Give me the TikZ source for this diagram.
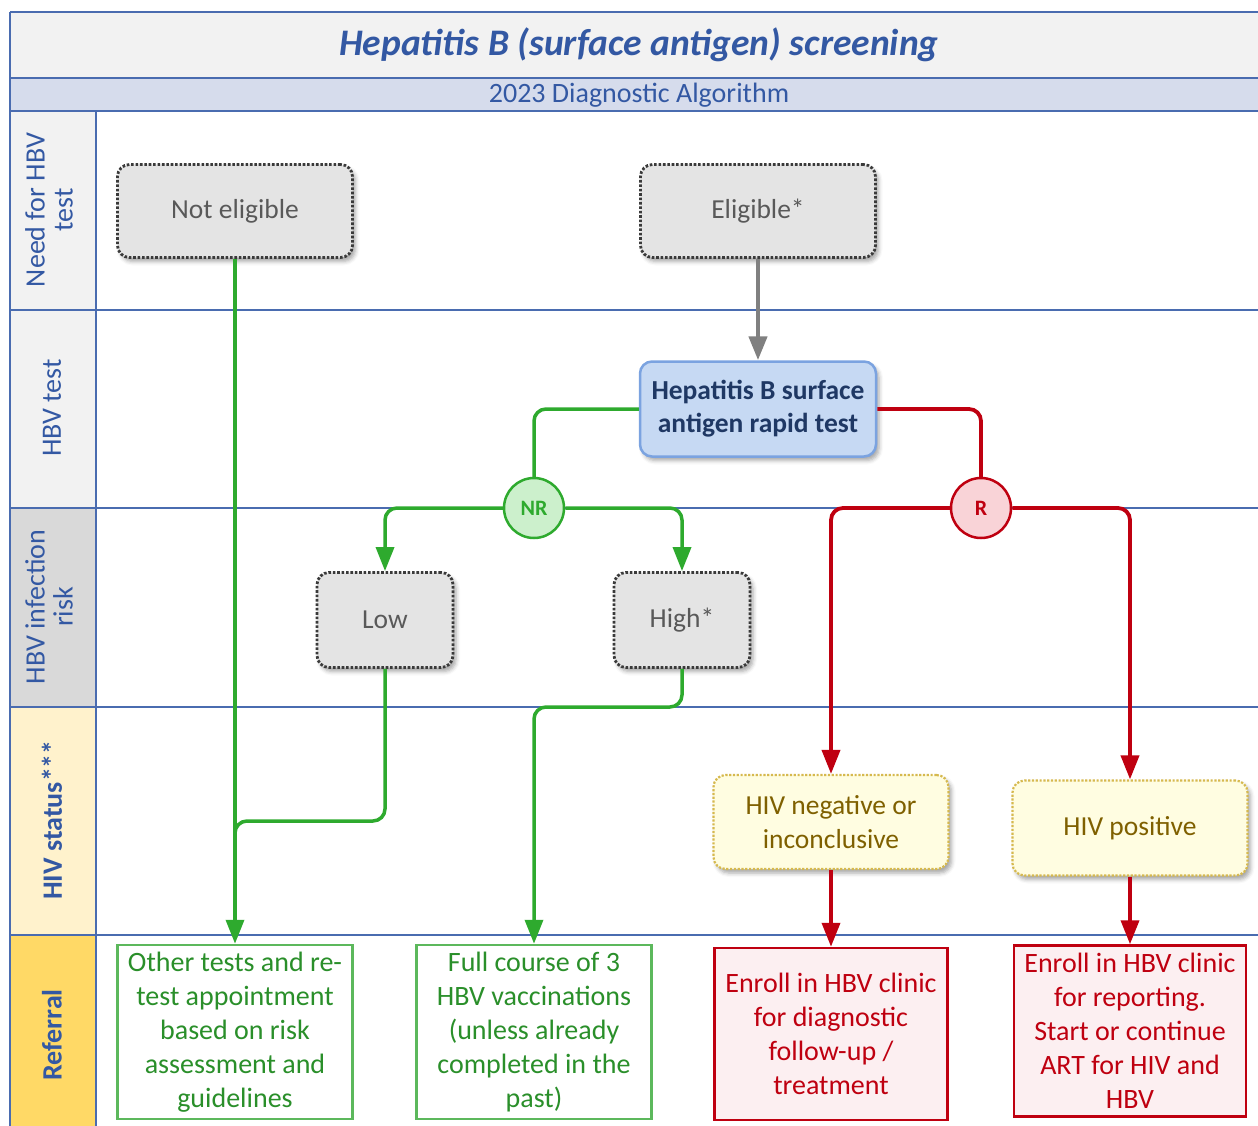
\documentclass[tikz,border=0pt]{standalone}
\usepackage{fontspec}
\setmainfont{Carlito}
\usetikzlibrary{arrows.meta,shadows.blur,calc}

\definecolor{frameblue}{HTML}{4A6CB0}
\definecolor{labelblue}{HTML}{3358A3}
\definecolor{titlebg}{HTML}{F2F2F2}
\definecolor{subbg}{HTML}{D6DCEC}
\definecolor{laneA}{HTML}{F2F2F2}
\definecolor{laneB}{HTML}{D9D9D9}
\definecolor{laneC}{HTML}{FFF2CC}
\definecolor{laneD}{HTML}{FFD966}
\definecolor{greyfill}{HTML}{E4E4E4}
\definecolor{greydraw}{HTML}{3A3A3A}
\definecolor{greytext}{HTML}{595959}
\definecolor{testfill}{HTML}{C6D9F3}
\definecolor{testdraw}{HTML}{7BA3E0}
\definecolor{testtext}{HTML}{1F3864}
\definecolor{okgreen}{HTML}{2EAA2E}
\definecolor{okfill}{HTML}{CCF0CC}
\definecolor{okbox}{HTML}{5CB85C}
\definecolor{oktext}{HTML}{2A8F2A}
\definecolor{alertred}{HTML}{BF0010}
\definecolor{alertfill}{HTML}{F9D3D7}
\definecolor{alertbox}{HTML}{FCEFF1}
\definecolor{hivfill}{HTML}{FFFDE1}
\definecolor{hivdraw}{HTML}{D6B94E}
\definecolor{hivtext}{HTML}{7F6000}
\definecolor{arrowgrey}{HTML}{808080}

\newcommand\myfs[2]{\fontsize{#1}{#2}\selectfont}

\tikzset{
  softshadow/.style={blur shadow={shadow xshift=3pt, shadow yshift=-4pt,
      shadow blur radius=4pt, shadow opacity=35}},
  greybox/.style={rounded corners=12pt, fill=greyfill, draw=greydraw,
      line width=2.8pt, dash pattern=on 2.6pt off 1.8pt, text=greytext,
      align=center, font=\myfs{27.5}{33}, softshadow},
  testbox/.style={rounded corners=12pt, fill=testfill, draw=testdraw,
      line width=2.5pt, text=testtext, align=center,
      font=\myfs{27.5}{33}\bfseries, softshadow},
  hivbox/.style={rounded corners=12pt, fill=hivfill, draw=hivdraw,
      line width=2.2pt, dash pattern=on 2.2pt off 1.6pt, text=hivtext,
      align=center, font=\myfs{27.5}{34}, softshadow},
  okcircle/.style={circle, minimum size=60pt, inner sep=0pt, fill=okfill,
      draw=okgreen, line width=2.5pt, text=okgreen, font=\myfs{22}{26}\bfseries},
  alertcircle/.style={circle, minimum size=60pt, inner sep=0pt, fill=alertfill,
      draw=alertred, line width=2.5pt, text=alertred, font=\myfs{22}{26}\bfseries},
  okref/.style={draw=okbox, line width=2.5pt, fill=white, text=oktext,
      align=center, font=\myfs{28}{34}},
  alertref/.style={draw=alertred, line width=2.5pt, fill=alertbox, text=alertred,
      align=center, font=\myfs{28}{34}},
  lanelabel/.style={rotate=90, align=center, text=labelblue, font=\myfs{28}{28}},
  tip/.style={-{Triangle[width=18pt,length=24pt]}},
  okline/.style={draw=okgreen, line width=3.5pt, rounded corners=12pt},
  alertline/.style={draw=alertred, line width=3.8pt, rounded corners=12pt},
  greyline/.style={draw=arrowgrey, line width=4.5pt},
  frameline/.style={draw=frameblue, line width=2pt}
}

\begin{document}
\begin{tikzpicture}[x=1pt, y=-1pt]
\useasboundingbox (0,0) rectangle (1258,1126);

% header bands
\fill[titlebg] (10,12) rectangle (1258,78);
\fill[subbg] (10,78) rectangle (1258,111);
% lane label column
\fill[laneA] (10,111) rectangle (96,508);
\fill[laneB] (10,508) rectangle (96,707);
\fill[laneC] (10,707) rectangle (96,935);
\fill[laneD] (10,935) rectangle (96,1126);

% frame lines
\draw[frameline] (10,12) -- (1258,12);
\draw[frameline] (10,78) -- (1258,78);
\draw[frameline] (10,111) -- (1258,111);
\draw[frameline] (10,310) -- (1258,310);
\draw[frameline] (10,508) -- (1258,508);
\draw[frameline] (10,707) -- (1258,707);
\draw[frameline] (10,935) -- (1258,935);
\draw[frameline] (10,12) -- (10,1126);
\draw[frameline] (96,111) -- (96,1126);

% titles
\node (title) at (639,45) {\myfs{37.5}{44}\bfseries\itshape\color{labelblue}Hepatitis B (surface antigen) screening};
\node (subtitle) at (639,95) {\myfs{28}{32}\color{labelblue}2023 Diagnostic Algorithm};

% lane labels
\node[lanelabel] (lane1) at (49,210) {Need for HBV\\test};
\node[lanelabel] (lane2) at (52,408) {HBV test};
\node[lanelabel] (lane3) at (49,607) {HBV infection\\risk};
\node[lanelabel, font=\myfs{28}{28}\bfseries] (lane4) at (52,820) {HIV status***};
\node[lanelabel, font=\myfs{28}{28}\bfseries] (lane5) at (52,1035) {Referral};

% decision nodes
\node[greybox, minimum width=235pt, minimum height=93pt] (noteli) at (235,211) {Not eligible};
\node[greybox, minimum width=235pt, minimum height=93pt] (eli) at (758,211) {Eligible*};
\node[testbox, minimum width=236pt, minimum height=95pt] (test) at (758,409) {Hepatitis B surface\\antigen rapid test};
\node[okcircle] (nr) at (534,508) {NR};
\node[alertcircle] (r) at (981,508) {R};
\node[greybox, minimum width=136pt, minimum height=95pt] (low) at (385,620) {Low};
\node[greybox, minimum width=136pt, minimum height=95pt] (high) at (682,620) {High*};
\node[hivbox, minimum width=235pt, minimum height=94pt] (hivneg) at (831,822) {HIV negative or\\inconclusive};
\node[hivbox, minimum width=235pt, minimum height=95pt] (hivpos) at (1130,828) {HIV positive};

% referral boxes
\node[okref, minimum width=235pt, minimum height=174pt] (other) at (235,1032) {Other tests and re-\\test appointment\\based on risk\\assessment and\\guidelines};
\node[okref, minimum width=235pt, minimum height=174pt] (vacc) at (534,1032) {Full course of 3\\HBV vaccinations\\(unless already\\completed in the\\past)};
\node[alertref, minimum width=233pt, minimum height=172pt] (clinic) at (831,1034) {Enroll in HBV clinic\\for diagnostic\\follow-up /\\treatment};
\node[alertref, minimum width=232pt, minimum height=171pt] (clinicart) at (1130,1031) {Enroll in HBV clinic\\for reporting.\\Start or continue\\ART for HIV and\\HBV};

% bend points
\coordinate (merge) at (235,821);
\coordinate (mergedown) at (235,850);
\coordinate (highbend) at (682,707);

% connectors
\draw[greyline, tip] (eli.south) -- (test.north);
\draw[okline] (test.west) -| (nr.north);
\draw[alertline] (test.east) -| (r.north);
\draw[okline, tip] (nr.west) -| (low.north);
\draw[okline, tip] (nr.east) -| (high.north);
\draw[alertline, tip] (r.west) -| (hivneg.north);
\draw[alertline, tip] (r.east) -| (hivpos.north);
\draw[okline, tip] (noteli.south) -- (other.north);
\draw[okline] (low.south) |- (merge) -- (mergedown);
\draw[okline, tip] (high.south) -- (highbend) -| (vacc.north);
\draw[alertline, tip] (hivneg.south) -- (clinic.north);
\draw[alertline, tip] (hivpos.south) -- (clinicart.north);
\end{tikzpicture}
\end{document}
